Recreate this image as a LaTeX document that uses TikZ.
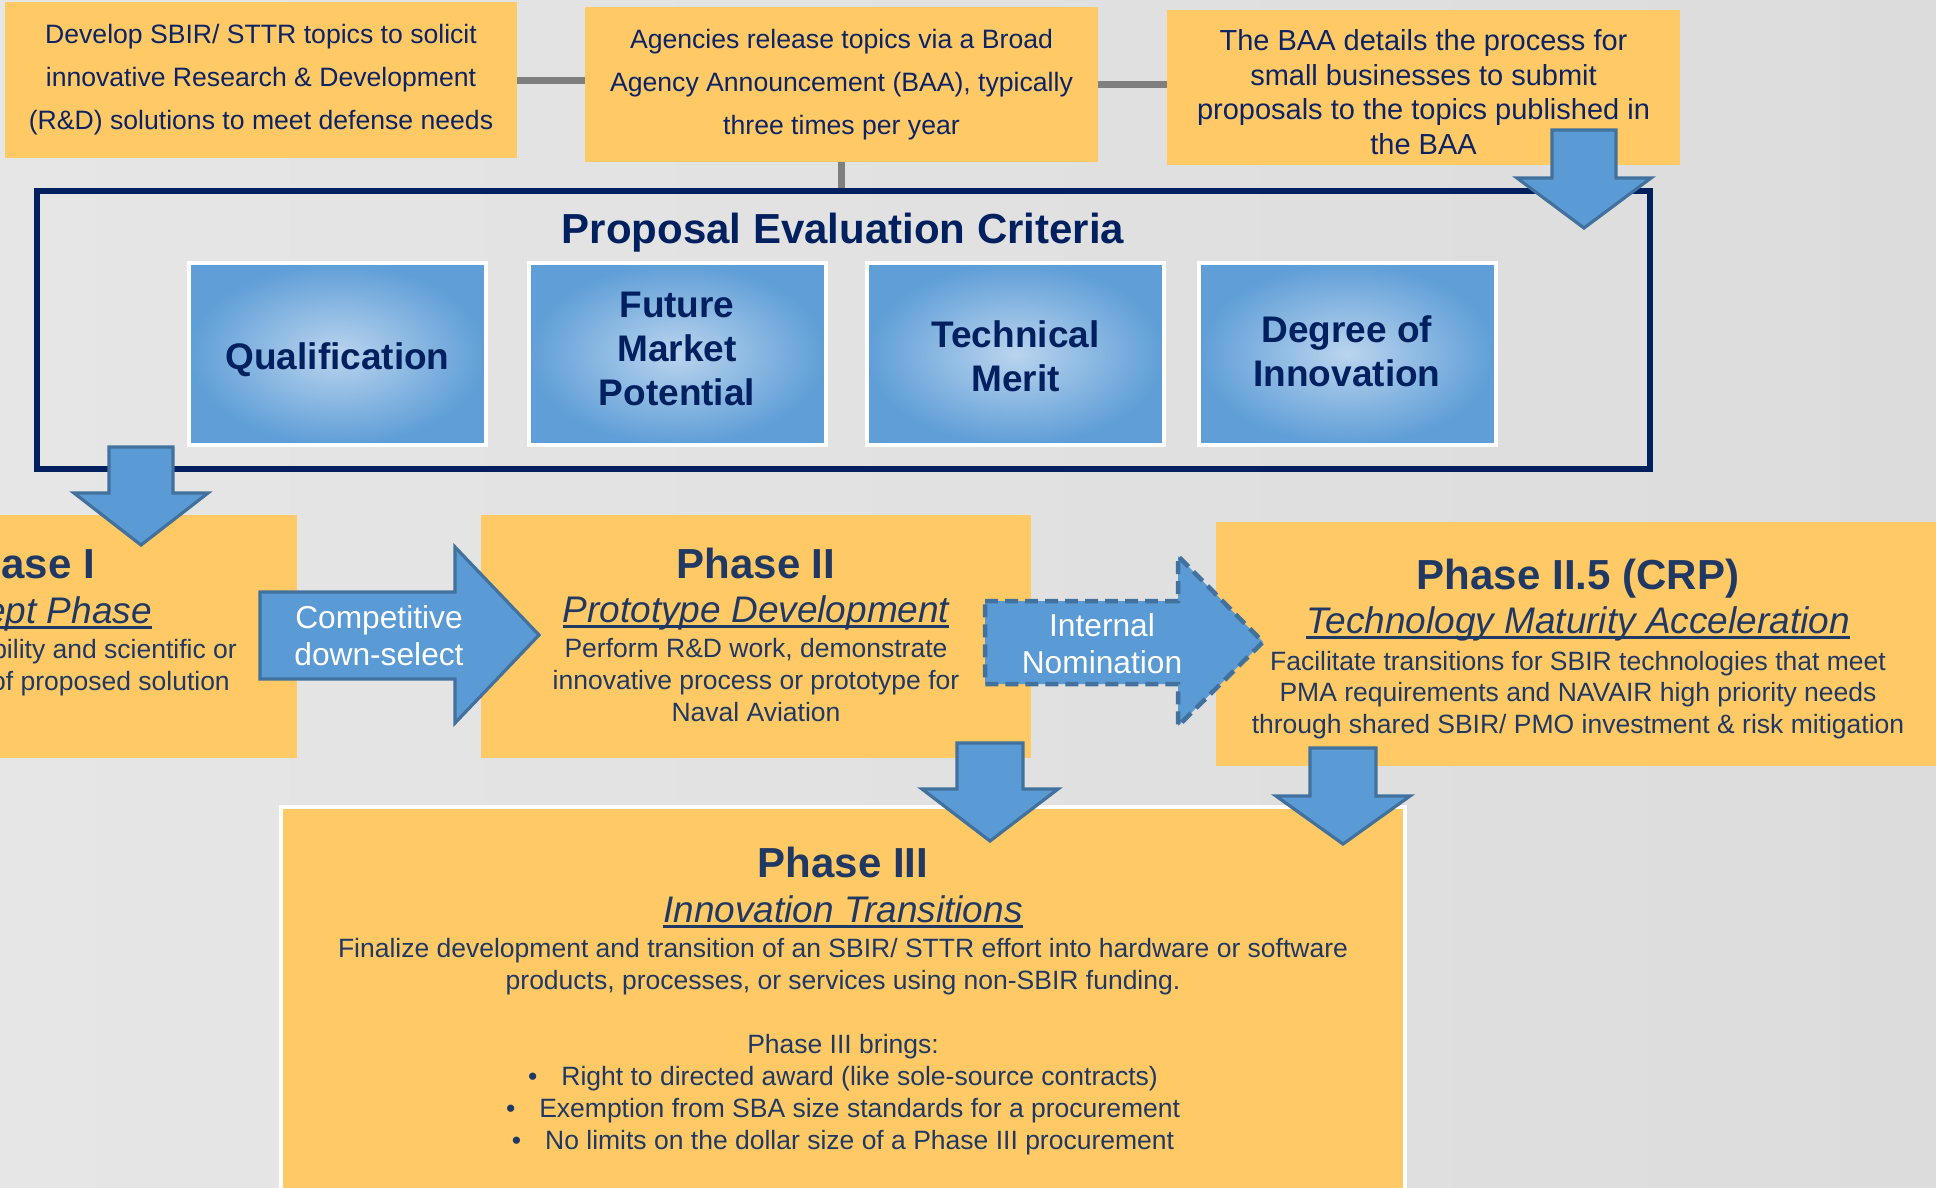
\documentclass[tikz,border=0pt]{standalone}
\usepackage{fontspec}
\setmainfont{Liberation Sans}
\usetikzlibrary{calc}
\definecolor{yboxC}{HTML}{FFCA65}
\definecolor{navyT}{HTML}{0C2365}
\definecolor{phT}{HTML}{1F3864}
\definecolor{frameC}{HTML}{002060}
\definecolor{arrF}{HTML}{5B9BD5}
\definecolor{arrB}{HTML}{41719C}
\definecolor{critIn}{HTML}{BAD4EE}
\definecolor{critOut}{HTML}{5F9ED7}
\definecolor{grayC}{HTML}{7F7F7F}
\definecolor{bgL}{HTML}{E6E6E6}
\definecolor{bgM}{HTML}{EFEFEF}
\definecolor{bgR}{HTML}{DCDCDC}
\newcommand\myul[1]{\setbox0\hbox{#1}\rlap{\rule[-5.6pt]{\wd0}{2.6pt}}\box0}
\newcommand\tline[4]{\node[anchor=base, inner sep=0, #1] (#2) at (#3) {#4};}
\newcommand\dnarrow[6]{\draw[blockarrow] (#1-#5,#2) -- (#1+#5,#2) -- (#1+#5,#3) -- (#1+#6,#3) -- (#1,#4) -- (#1-#6,#3) -- (#1-#5,#3) -- cycle;}
\tikzset{
  ybox/.style={fill=yboxC, inner sep=0, draw=none},
  toptext/.style={text=navyT, align=center, font=\fontsize{26.6}{43}\selectfont},
  fhead/.style={text=phT, font=\bfseries\fontsize{42}{50}\selectfont},
  fsub/.style={text=phT, font=\itshape\fontsize{37}{44}\selectfont},
  fbody/.style={text=phT, font=\fontsize{26.5}{32}\selectfont},
  crit/.style={minimum width=297, minimum height=182, inner color=critIn, outer color=critOut,
    draw=white, line width=4},
  crittext/.style={align=center, inner sep=0, text=frameC, font=\bfseries\fontsize{37}{44}\selectfont},
  blockarrow/.style={fill=arrF, draw=arrB, line width=3.2, line join=miter},
  arrtext/.style={text=white, align=center, inner sep=0, font=\fontsize{31.7}{37}\selectfont},
  conn/.style={draw=grayC, line width=7}
}
\begin{document}
\begin{tikzpicture}[x=1pt,y=-1pt]
\useasboundingbox (0,0) rectangle (1936,1187);
\clip (0,0) rectangle (1936,1187);
\shade[left color=bgL, middle color=bgM, right color=bgR] (0,0) rectangle (1936,1187);

% top boxes
\node[ybox, minimum width=512, minimum height=156, toptext] (b1) at (261,80)
  {Develop SBIR/ STTR topics to solicit\\innovative Research \& Development\\(R\&D) solutions to meet defense needs};
\node[ybox, minimum width=513, minimum height=155, toptext] (b2) at (841.5,84.5)
  {Agencies release topics via a Broad\\Agency Announcement (BAA), typically\\three times per year};
\node[ybox, minimum width=513, minimum height=155] (b3) at (1423.5,87.5) {};
\node[toptext, inner sep=0, font=\fontsize{29}{34.5}\selectfont] (b3t) at (1423.5,92)
  {The BAA details the process for\\small businesses to submit\\proposals to the topics published in\\the BAA};

% frame
\node[draw=frameC, line width=5.5, minimum width=1613, minimum height=278, inner sep=0] (frame) at (843.5,330) {};
\draw[conn] (b1.east) -- (b1.east -| b2.west);
\draw[conn] (b2.east) -- (b2.east -| b3.west);
\draw[conn] (b2.south) -- (b2.south |- frame.north);

\tline{text=frameC, font=\bfseries\fontsize{42}{50}\selectfont}{title}{843,243}{Proposal Evaluation Criteria}
\node[crit] (c1) at (337.5,354) {};
\node[crit] (c2) at (677,354) {};
\node[crit] (c3) at (1015.5,354) {};
\node[crit] (c4) at (1347,354) {};
\node[crittext] (c1t) at (337.5,360) {Qualification};
\node[crittext] (c2t) at (677,349) {Future\\Market\\Potential};
\node[crittext] (c3t) at (1015.5,356) {Technical\\Merit};
\node[crittext] (c4t) at (1347,351) {Degree of\\Innovation};

% BAA arrow
\dnarrow{1584}{130}{178}{228}{32}{67}

% phase boxes
\node[ybox, minimum width=550, minimum height=243] (p1) at (22,636.5) {};
\node[ybox, minimum width=550, minimum height=243] (p2) at (756,636.5) {};
\node[ybox, minimum width=724, minimum height=244] (p25) at (1578,644) {};
\node[fill=yboxC, draw=white, line width=4, minimum width=1124, minimum height=460, inner sep=0] (p3) at (843,1037) {};

% phase I arrow
\dnarrow{141}{447}{493}{545}{32}{67}

% Phase I text (cut off by the left edge)
\tline{fhead, anchor=base east}{p1h}{95,578}{Phase I}
\tline{fsub, anchor=base east}{p1s}{152,623}{\myul{Concept Phase}}
\tline{fbody, anchor=base east}{p1a}{237,658}{Determine feasibility and scientific or}
\tline{fbody, anchor=base east}{p1b}{230,690}{commercial merit of proposed solution}

% Phase II text
\tline{fhead}{p2h}{756,578}{Phase II}
\tline{fsub}{p2s}{756,622}{\myul{Prototype Development}}
\tline{fbody}{p2a}{756,657}{Perform R\&D work, demonstrate}
\tline{fbody}{p2b}{756,689}{innovative process or prototype for}
\tline{fbody}{p2c}{756,721}{Naval Aviation}

% Phase II.5 text
\tline{fhead}{p25h}{1578,589}{Phase II.5 (CRP)}
\tline{fsub}{p25s}{1578,633}{\myul{Technology Maturity Acceleration}}
\tline{fbody}{p25a}{1578,670}{Facilitate transitions for SBIR technologies that meet}
\tline{fbody}{p25b}{1578,701}{PMA requirements and NAVAIR high priority needs}
\tline{fbody}{p25c}{1578,733}{through shared SBIR/ PMO investment \& risk mitigation}

% Phase III text
\tline{fhead}{p3h}{843,877}{Phase III}
\tline{fsub}{p3s}{843,922}{\myul{Innovation Transitions}}
\tline{fbody}{p3a}{843,957}{Finalize development and transition of an SBIR/ STTR effort into hardware or software}
\tline{fbody}{p3b}{843,989}{products, processes, or services using non-SBIR funding.}
\tline{fbody}{p3c}{843,1053}{Phase III brings:}
\tline{fbody}{p3d}{843,1085}{\textbullet\hspace{24pt}Right to directed award (like sole-source contracts)}
\tline{fbody}{p3e}{843,1117}{\textbullet\hspace{24pt}Exemption from SBA size standards for a procurement}
\tline{fbody}{p3f}{843,1149}{\textbullet\hspace{24pt}No limits on the dollar size of a Phase III procurement}

% horizontal arrows
\draw[blockarrow] (260,592) -- (455,592) -- (455,547) -- (539,635) -- (455,723) -- (455,679) -- (260,679) -- cycle;
\node[arrtext] (comp) at (379,636) {Competitive\\down-select};
\draw[blockarrow, dash pattern=on 13pt off 7pt, line width=4.5] (985,601) -- (1178,601) -- (1178,556) -- (1263,642) -- (1178,726) -- (1178,684) -- (985,684) -- cycle;
\node[arrtext] (nom) at (1102,644) {Internal\\Nomination};

% down arrows to phase III
\dnarrow{990}{743}{789}{841}{33}{68}
\dnarrow{1343}{748}{796}{844}{33}{67}
\end{tikzpicture}
\end{document}
